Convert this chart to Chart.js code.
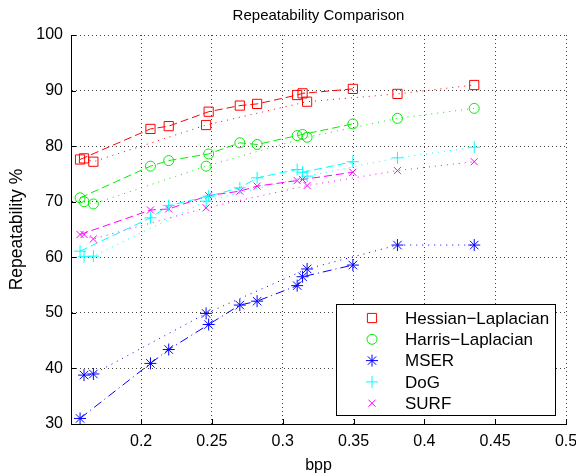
<!DOCTYPE html>
<html>
<head>
<meta charset="utf-8">
<script src="https://cdn.jsdelivr.net/npm/chart.js"></script>
<style>
  body { margin: 0; background: #fff; }
</style>
</head>
<body>
<canvas id="chart" width="576" height="475"></canvas>
<script>
// bit rates of the two test runs (dashed run A, dotted run B)
const bppA = [0.1569, 0.2066, 0.2195, 0.2477, 0.2697, 0.2819, 0.3102, 0.3140, 0.3495]
const bppB = [0.1597, 0.1663, 0.2459, 0.3172, 0.3810, 0.4352]

const hessianA = [77.6, 83.1, 83.6, 86.2, 87.3, 87.6, 89.2, 89.5, 90.3]
const hessianB = [77.8, 77.2, 83.8, 88.0, 89.4, 91.0]
const harrisA = [70.7, 76.4, 77.4, 78.6, 80.6, 80.3, 81.9, 82.1, 84.0]
const harrisB = [70.0, 69.6, 76.4, 81.6, 85.0, 86.8]
const mserA = [31.0, 40.9, 43.4, 47.9, 51.4, 52.1, 54.9, 56.5, 58.6]
const mserB = [38.8, 39.0, 49.9, 57.9, 62.2, 62.2]
const dogA = [61.1, 67.1, 69.3, 71.0, 72.5, 74.3, 75.8, 75.3, 77.2]
const dogB = [60.1, 60.2, 70.1, 74.6, 77.9, 79.8]
const surfA = [64.1, 68.5, 68.7, 71.1, 71.9, 72.8, 73.8, 74.0, 75.3]
const surfB = [64.1, 63.3, 68.9, 72.9, 75.6, 77.2]

const xTicks = [0.2, 0.25, 0.3, 0.35, 0.4, 0.45, 0.5]
const yTicks = [30, 40, 50, 60, 70, 80, 90, 100]

const series = [
  { label: 'Hessian\u2212Laplacian', color: '#ff0000', style: 'rect', radius: 6.5, a: hessianA, b: hessianB },
  { label: 'Harris\u2212Laplacian', color: '#00ee00', style: 'circle', radius: 5, a: harrisA, b: harrisB },
  { label: 'MSER', color: '#0000ff', style: 'star', radius: 6, a: mserA, b: mserB, dashA: [9, 4, 1, 4] },
  { label: 'DoG', color: '#00ffff', style: 'cross', radius: 6, a: dogA, b: dogB },
  { label: 'SURF', color: '#ff00ff', style: 'crossRot', radius: 5, a: surfA, b: surfB }
]

const FONT = '"Liberation Sans", Arial, sans-serif'
Chart.defaults.font.family = FONT
Chart.defaults.color = '#000'

function points(xs, ys) {
  return xs.map((x, i) => ({ x, y: ys[i] }))
}

function dataset(s, xs, ys, dash, inLegend) {
  return {
    label: s.label,
    inLegend,
    data: points(xs, ys),
    borderColor: s.color,
    borderWidth: 1,
    borderDash: dash,
    pointStyle: s.style,
    pointRadius: s.radius,
    pointBorderColor: s.color,
    pointBackgroundColor: 'rgba(0,0,0,0)',
    pointBorderWidth: 1,
    tension: 0,
    fill: false
  }
}

const datasets = []
series.forEach(s => {
  datasets.push(dataset(s, bppA, s.a, s.dashA || [8, 4], true))
  datasets.push(dataset(s, bppB, s.b, [1, 5], false))
})

// inward ticks + legend box inside the plot
const frame = {
  id: 'frame',
  afterDraw(chart) {
    const { ctx, chartArea: area, scales: { x, y } } = chart
    ctx.save()
    ctx.strokeStyle = '#000'
    ctx.lineWidth = 1
    ctx.beginPath()
    x.ticks.forEach(t => {
      const px = Math.round(x.getPixelForValue(t.value)) + 0.5
      ctx.moveTo(px, area.bottom)
      ctx.lineTo(px, area.bottom - 5)
    })
    y.ticks.forEach(t => {
      const py = Math.round(y.getPixelForValue(t.value)) + 0.5
      ctx.moveTo(area.left, py)
      ctx.lineTo(area.left + 5, py)
    })
    ctx.stroke()

    const box = { left: 336.5, top: 304.5, width: 219, height: 111 }
    ctx.fillStyle = '#fff'
    ctx.fillRect(box.left, box.top, box.width, box.height)
    ctx.strokeRect(box.left, box.top, box.width, box.height)

    ctx.font = '17px ' + FONT
    ctx.textBaseline = 'middle'
    ctx.textAlign = 'left'
    const rows = chart.data.datasets.filter(d => d.inLegend)
    rows.forEach((d, i) => {
      const cy = 318 + i * 21.3
      ctx.strokeStyle = d.borderColor
      ctx.fillStyle = 'rgba(0,0,0,0)'
      ctx.setLineDash([])
      Chart.helpers.drawPoint(ctx, {
        pointStyle: d.pointStyle,
        radius: d.pointRadius,
        rotation: 0,
        borderWidth: 1
      }, 372, cy)
      ctx.fillStyle = '#000'
      ctx.fillText(d.label, 405, cy + 1)
    })
    ctx.restore()
  }
}

new Chart(document.getElementById('chart'), {
  type: 'line',
  data: { datasets },
  options: {
    responsive: false,
    animation: false,
    layout: { padding: { left: 0, right: 10, top: 0, bottom: 0 } },
    plugins: {
      legend: { display: false },
      tooltip: { enabled: false },
      title: {
        display: true,
        text: 'Repeatability Comparison',
        fullSize: false,
        font: { size: 15, weight: 'normal' },
        color: '#000',
        padding: { top: 7, bottom: 10 }
      }
    },
    scales: {
      x: {
        type: 'linear',
        min: 0.1505,
        max: 0.5,
        afterBuildTicks: scale => { scale.ticks = xTicks.map(v => ({ value: v })) },
        afterFit: scale => {
          scale.height = 51
          scale.paddingLeft = 0
          scale.paddingRight = 0
        },
        ticks: {
          font: { size: 16 },
          padding: 8,
          maxRotation: 0,
          callback: v => String(+v.toFixed(2))
        },
        grid: { color: 'rgba(0,0,0,0.75)', drawTicks: false },
        border: { display: true, color: '#000', width: 1, dash: [1, 3] },
        title: { display: true, text: 'bpp', font: { size: 16 }, padding: { top: 0, bottom: 0 } }
      },
      y: {
        min: 30,
        max: 100,
        afterBuildTicks: scale => { scale.ticks = yTicks.map(v => ({ value: v })) },
        afterFit: scale => { scale.width = 71 },
        ticks: { font: { size: 16 }, padding: 8 },
        grid: { color: 'rgba(0,0,0,0.75)', drawTicks: false },
        border: { display: true, color: '#000', width: 1, dash: [1, 3] },
        title: { display: true, text: 'Repeatability %', font: { size: 17.5 }, padding: { top: 7, bottom: 0 } }
      }
    }
  },
  plugins: [frame]
})
</script>
</body>
</html>
